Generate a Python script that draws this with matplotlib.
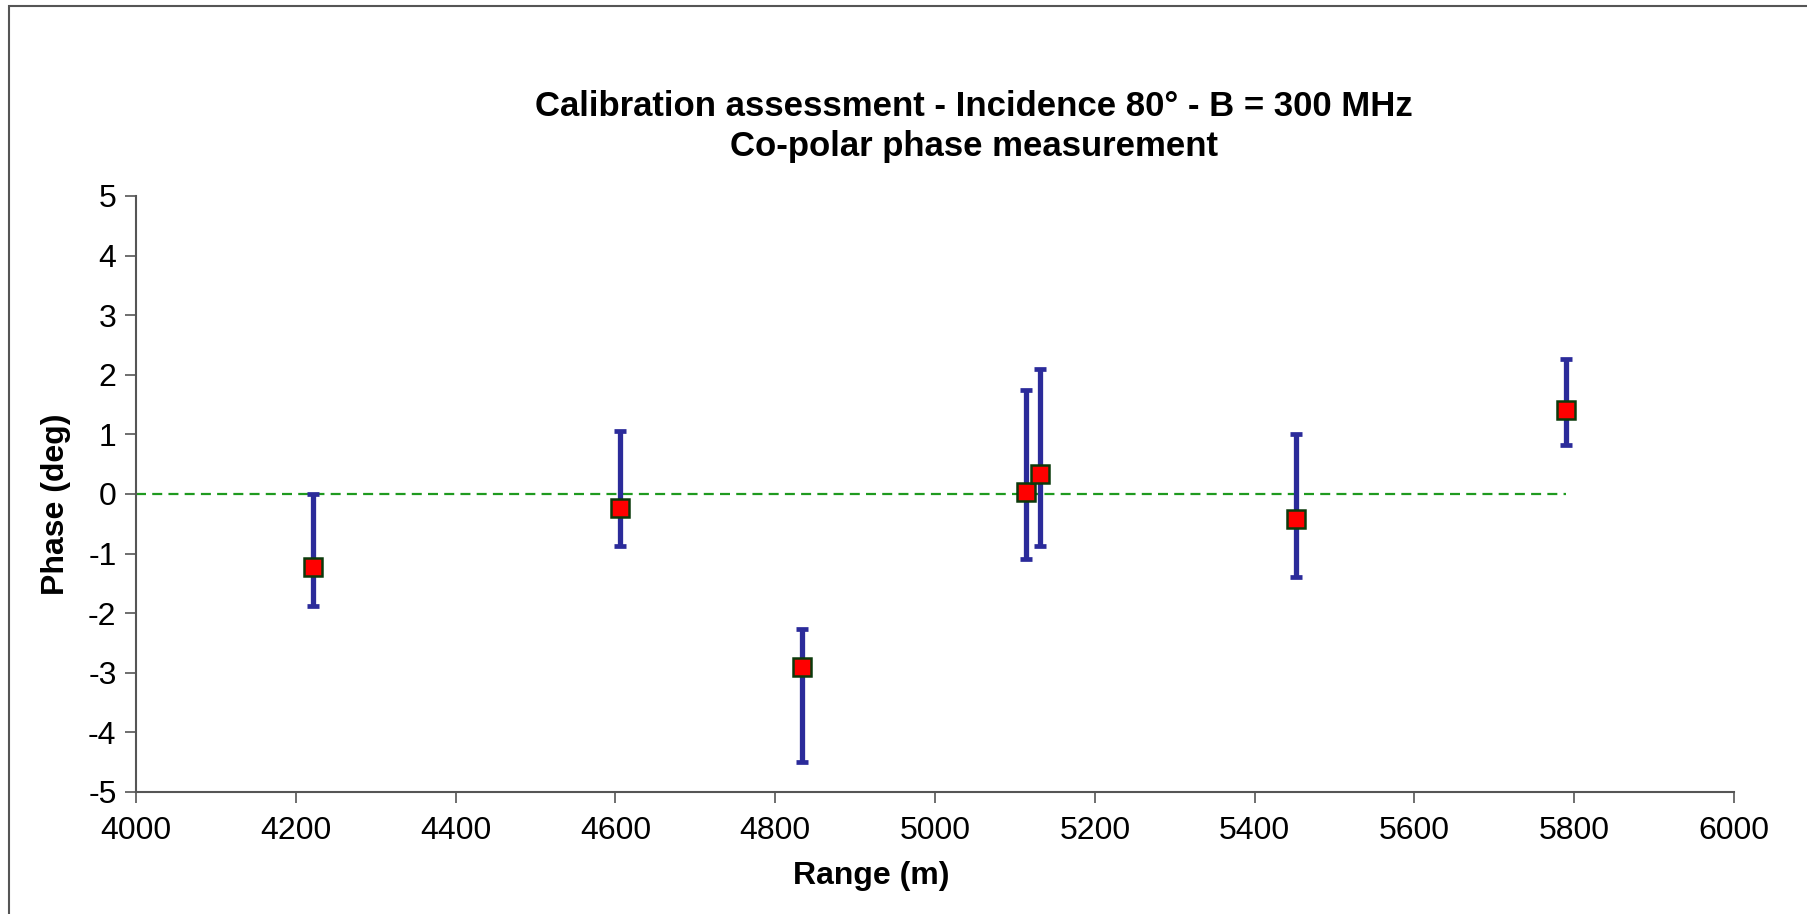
import matplotlib
matplotlib.use("Agg")
import matplotlib.pyplot as plt
from matplotlib.patches import Rectangle

plt.rcParams["font.family"] = ["Liberation Sans", "DejaVu Sans"]
plt.rcParams["axes.unicode_minus"] = False

range_m = [4221, 4606, 4833, 5114, 5132, 5452, 5790]
phase = [-1.22, -0.24, -2.90, 0.03, 0.34, -0.42, 1.41]
err_upper = [0.00, 1.06, -2.27, 1.75, 2.09, 1.00, 2.26]
err_lower = [-1.88, -0.87, -4.50, -1.09, -0.88, -1.39, 0.83]

# reference line at zero phase
ref_x = [4000, 5790]
ref_y = [0, 0]

x_ticks = [4000, 4200, 4400, 4600, 4800, 5000, 5200, 5400, 5600, 5800, 6000]
y_ticks = [-5, -4, -3, -2, -1, 0, 1, 2, 3, 4, 5]


def main():
    fig = plt.figure(figsize=(18.07, 9.14), dpi=100)
    ax = fig.add_axes([0.0753, 0.1335, 0.8843, 0.6521])

    # outer chart border, clipped at right and bottom like the original
    fig.patches.append(Rectangle((9 / 1807, -0.1), 1.2, 1 - 6 / 914 + 0.1,
                                 transform=fig.transFigure, fill=False,
                                 edgecolor="#555555", linewidth=1.5))

    ax.plot(ref_x, ref_y, color="#1f9a1f", linestyle=(0, (4.5, 2.8)),
            linewidth=1.6, zorder=2)

    yerr = [[p - lo for p, lo in zip(phase, err_lower)],
            [hi - p for p, hi in zip(phase, err_upper)]]
    ax.errorbar(range_m, phase, yerr=yerr, fmt="none", ecolor="#2b2b9a",
                elinewidth=3.8, capsize=4.5, capthick=3.4, zorder=3)
    ax.plot(range_m, phase, linestyle="none", marker="s", markersize=13.5,
            markerfacecolor="#ff0000", markeredgecolor="#0b3a0b",
            markeredgewidth=1.8, zorder=4)

    ax.set_xlim(4000, 6000)
    ax.set_ylim(-5, 5)
    ax.set_xticks(x_ticks)
    ax.set_yticks(y_ticks)
    ax.tick_params(direction="out", length=8, width=1.2, labelsize=23,
                   color="#555555")
    ax.tick_params(axis="x", pad=9)
    ax.tick_params(axis="y", pad=6)

    for side in ["top", "right"]:
        ax.spines[side].set_visible(False)
    for side in ["left", "bottom"]:
        ax.spines[side].set_color("#555555")
        ax.spines[side].set_linewidth(1.5)

    ax.set_xlabel("Range (m)", fontsize=23, fontweight="bold")
    ax.xaxis.set_label_coords(0.4603, -0.115)
    ax.set_ylabel("Phase (deg)", fontsize=23, fontweight="bold")
    ax.yaxis.set_label_coords(-0.041, 0.483)
    fig.text(0.539, 1 - 126.5 / 914,
             "Calibration assessment - Incidence 80° - B = 300 MHz\n"
             "Co-polar phase measurement",
             ha="center", va="center", fontsize=25, fontweight="bold",
             linespacing=1.3)

    fig.savefig("out.png", dpi=100)
    plt.close(fig)


if __name__ == "__main__":
    main()
